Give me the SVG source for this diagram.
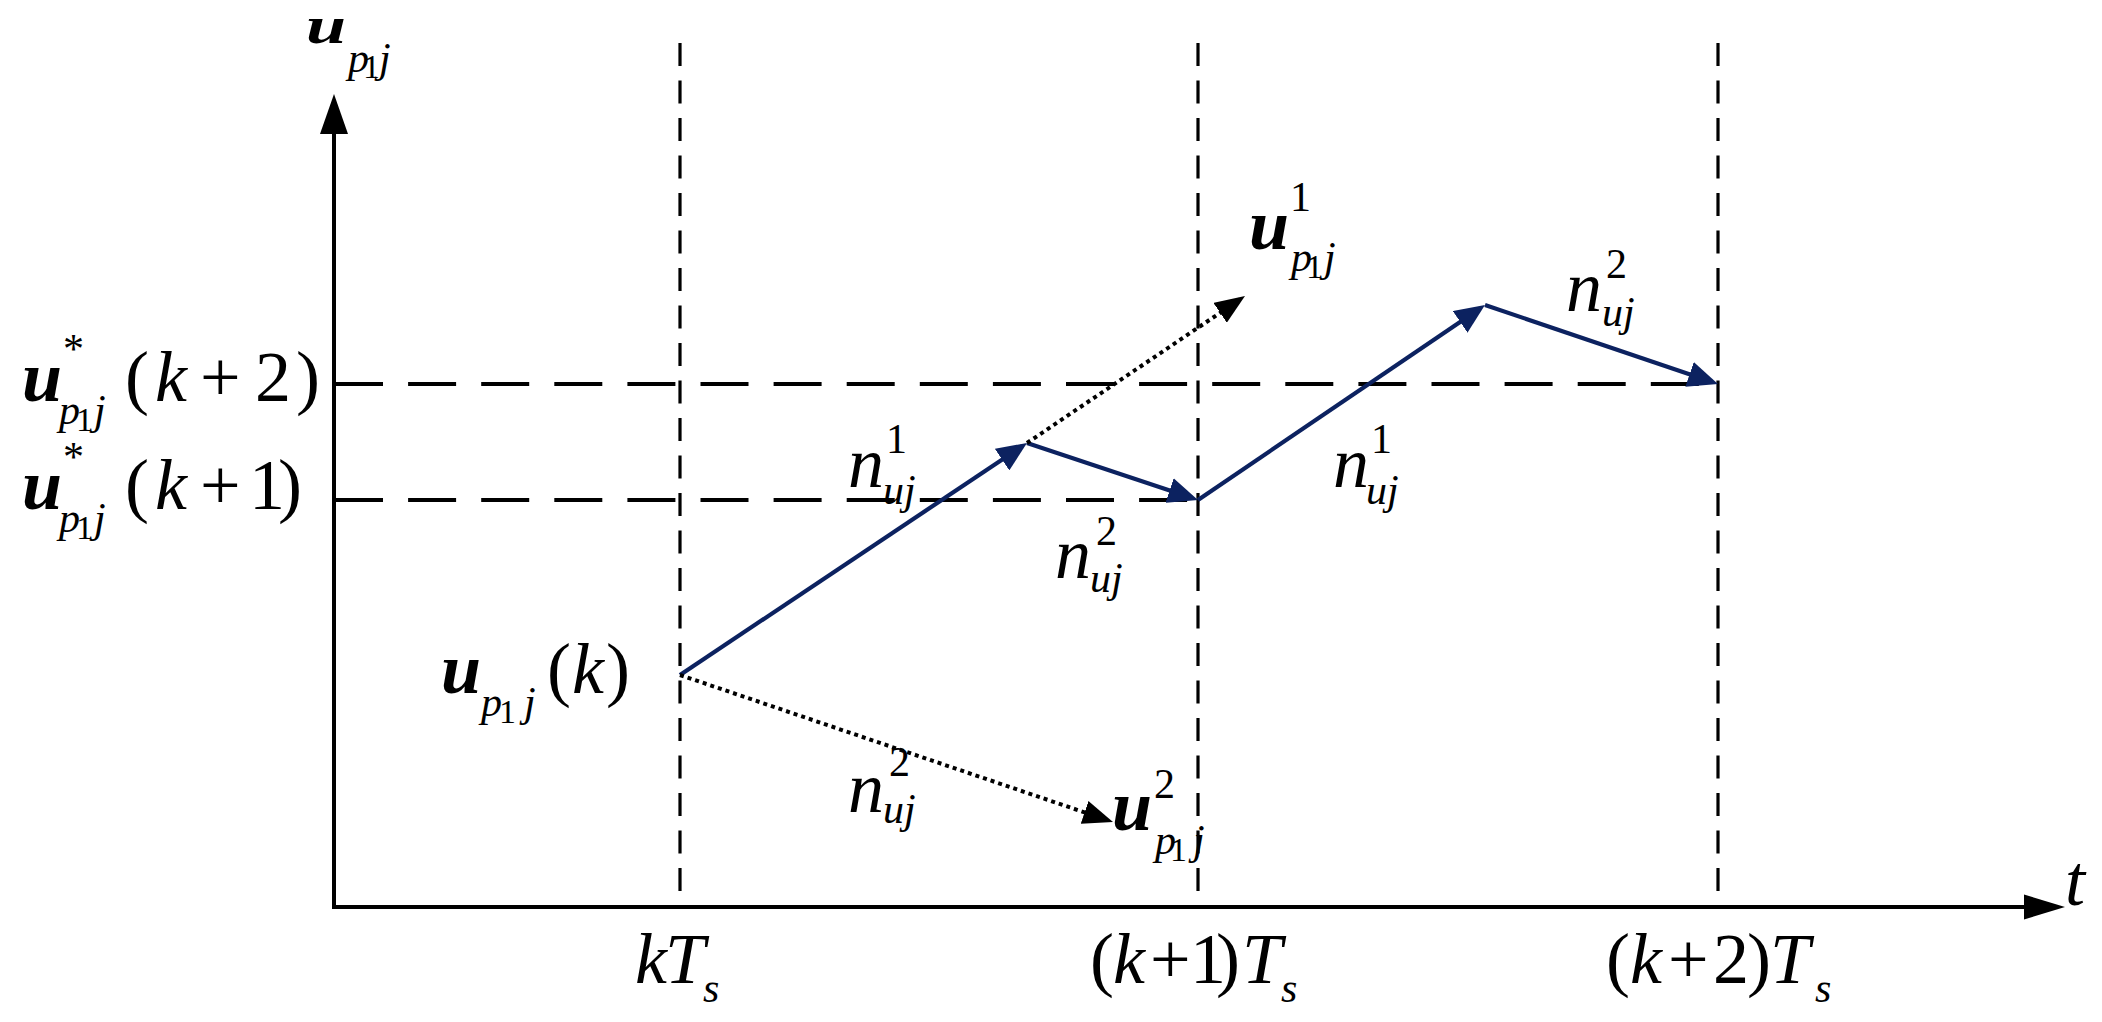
<svg xmlns="http://www.w3.org/2000/svg" width="2102" height="1022" viewBox="0 0 2102 1022">
<style>
  .m { font-family: "Liberation Serif", "Times New Roman", "DejaVu Serif", serif; font-style: italic; font-size: 72px; fill: #000; }
  .u { font-weight: bold; }
  .r { font-style: normal; }
  .s { font-size: 42px; }
  .ss { font-size: 34px; font-style: normal; }
  .axis { stroke: #000; stroke-width: 4; fill: none; }
  .vdash { stroke: #000; stroke-width: 3.2; stroke-dasharray: 23 14.5; fill: none; }
  .hdash { stroke: #000; stroke-width: 3.8; stroke-dasharray: 48 25.1; fill: none; }
  .blue { stroke: #0c2260; stroke-width: 4.2; fill: none; marker-end: url(#ahBlue); }
  .dot { stroke: #000; stroke-width: 4; stroke-dasharray: 4 4; fill: none; marker-end: url(#ahBlack); }
</style>
<defs>
  <marker id="ahBlue" markerUnits="userSpaceOnUse" viewBox="0 0 30 26" markerWidth="30" markerHeight="26" refX="24" refY="13" orient="auto">
    <path d="M0,0 L30,13 L0,26 z" fill="#0c2260"/>
  </marker>
  <marker id="ahBlack" markerUnits="userSpaceOnUse" viewBox="0 0 30 24" markerWidth="30" markerHeight="24" refX="24" refY="12" orient="auto">
    <path d="M0,0 L30,12 L0,24 z" fill="#000"/>
  </marker>
</defs>
<rect width="2102" height="1022" fill="#fff"/>

<g id="grid">
  <line class="vdash" x1="680" y1="43" x2="680" y2="907"/>
  <line class="vdash" x1="1198" y1="43" x2="1198" y2="907"/>
  <line class="vdash" x1="1718" y1="43" x2="1718" y2="907"/>
  <line class="hdash" x1="335" y1="384" x2="1718" y2="384"/>
  <line class="hdash" x1="335" y1="500" x2="1196" y2="500"/>
</g>

<g id="axes">
  <line class="axis" x1="334" y1="909" x2="334" y2="130"/>
  <polygon points="320,134 348,134 334,94" fill="#000"/>
  <line class="axis" x1="332" y1="907" x2="2028" y2="907"/>
  <polygon points="2024,894.5 2024,919.5 2065,907" fill="#000"/>
</g>

<g id="connectors">
  <line class="blue" x1="680" y1="675" x2="1022" y2="446.3"/>
  <line class="blue" x1="1027" y1="443" x2="1192.3" y2="498.1"/>
  <line class="blue" x1="1198" y1="500" x2="1480" y2="308.4"/>
  <line class="blue" x1="1485" y1="305" x2="1712.3" y2="382.1"/>
  <line class="dot" x1="1027" y1="443" x2="1240" y2="299.4"/>
  <line class="dot" x1="680" y1="675" x2="1107.3" y2="820.1"/>
</g>

<g id="label-y-axis">
  <text class="m u" transform="translate(306,43) scale(1,0.72)">u</text>
  <text class="m s"><tspan x="348" y="72">p</tspan><tspan class="ss" x="363" y="78">1</tspan><tspan x="379" y="72">j</tspan></text>
</g>

<g id="label-t-axis">
  <text class="m" x="2065" y="905">t</text>
</g>

<g id="label-ustar-k2">
  <text class="m"><tspan class="u" x="22" y="401">u</tspan><tspan class="s r" x="63" y="363">*</tspan><tspan class="s" x="59" y="424">p</tspan><tspan class="ss" x="76" y="431">1</tspan><tspan class="s" x="94" y="424">j</tspan><tspan class="r" x="125" y="401">(</tspan><tspan x="155" y="401">k</tspan><tspan class="r" x="200" y="401">+</tspan><tspan class="r" x="255" y="401">2</tspan><tspan class="r" x="296" y="401">)</tspan></text>
</g>

<g id="label-ustar-k1">
  <text class="m"><tspan class="u" x="22" y="509">u</tspan><tspan class="s r" x="63" y="471">*</tspan><tspan class="s" x="59" y="532">p</tspan><tspan class="ss" x="76" y="539">1</tspan><tspan class="s" x="94" y="532">j</tspan><tspan class="r" x="125" y="509">(</tspan><tspan x="155" y="509">k</tspan><tspan class="r" x="200" y="509">+</tspan><tspan class="r" x="249" y="509">1</tspan><tspan class="r" x="278" y="509">)</tspan></text>
</g>

<g id="label-u-k">
  <text class="m"><tspan class="u" x="441" y="693">u</tspan><tspan class="s" x="481" y="716">p</tspan><tspan class="ss" x="499" y="723">1</tspan><tspan class="s" x="524" y="716">j</tspan><tspan class="r" x="547" y="693">(</tspan><tspan x="572" y="693">k</tspan><tspan class="r" x="606" y="693">)</tspan></text>
</g>

<g id="label-u1">
  <text class="m"><tspan class="u" x="1249" y="249">u</tspan><tspan class="s r" x="1290" y="211">1</tspan><tspan class="s" x="1291" y="271">p</tspan><tspan class="ss" x="1306" y="278">1</tspan><tspan class="s" x="1324" y="271">j</tspan></text>
</g>

<g id="label-u2">
  <text class="m"><tspan class="u" x="1112" y="830">u</tspan><tspan class="s r" x="1154" y="798">2</tspan><tspan class="s" x="1155" y="854">p</tspan><tspan class="ss" x="1170" y="861">1</tspan><tspan class="s" x="1193" y="854">j</tspan></text>
</g>

<g id="label-n1-a">
  <text class="m"><tspan x="848" y="487">n</tspan><tspan class="s r" x="886" y="453">1</tspan><tspan class="s" x="883" y="504">uj</tspan></text>
</g>

<g id="label-n2-a">
  <text class="m"><tspan x="1055" y="578">n</tspan><tspan class="s r" x="1096" y="545">2</tspan><tspan class="s" x="1090" y="592">uj</tspan></text>
</g>

<g id="label-n1-b">
  <text class="m"><tspan x="1333" y="487">n</tspan><tspan class="s r" x="1371" y="453">1</tspan><tspan class="s" x="1366" y="504">uj</tspan></text>
</g>

<g id="label-n2-b">
  <text class="m"><tspan x="1566" y="311">n</tspan><tspan class="s r" x="1606" y="278">2</tspan><tspan class="s" x="1602" y="326">uj</tspan></text>
</g>

<g id="label-n2-c">
  <text class="m"><tspan x="848" y="812">n</tspan><tspan class="s r" x="889" y="776">2</tspan><tspan class="s" x="883" y="823">uj</tspan></text>
</g>

<g id="label-kTs">
  <text class="m"><tspan x="635" y="983">k</tspan><tspan x="665" y="983">T</tspan><tspan class="s" x="703" y="1002">s</tspan></text>
</g>

<g id="label-k1Ts">
  <text class="m"><tspan class="r" x="1090" y="983">(</tspan><tspan x="1113" y="983">k</tspan><tspan class="r" x="1150" y="983">+</tspan><tspan class="r" x="1190" y="983">1</tspan><tspan class="r" x="1216" y="983">)</tspan><tspan x="1242" y="983">T</tspan><tspan class="s" x="1281" y="1002">s</tspan></text>
</g>

<g id="label-k2Ts">
  <text class="m"><tspan class="r" x="1606" y="983">(</tspan><tspan x="1630" y="983">k</tspan><tspan class="r" x="1668" y="983">+</tspan><tspan class="r" x="1713" y="983">2</tspan><tspan class="r" x="1747" y="983">)</tspan><tspan x="1770" y="983">T</tspan><tspan class="s" x="1815" y="1002">s</tspan></text>
</g>
</svg>
